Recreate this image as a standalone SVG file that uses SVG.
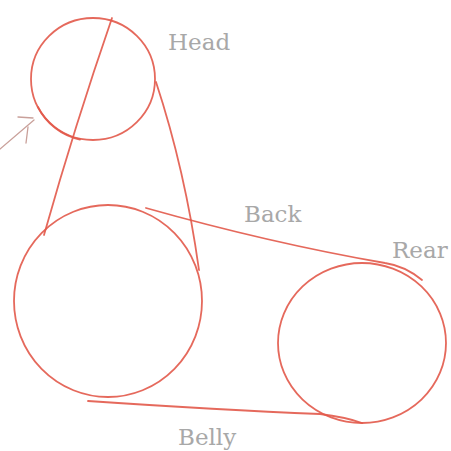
<svg xmlns="http://www.w3.org/2000/svg" width="451" height="451" viewBox="0 0 451 451">
<style>
.s{fill:none;stroke:#e2594a;stroke-width:1.8;stroke-linecap:round;opacity:0.9}
.t{fill:#a8a8a8;font-family:"DejaVu Serif",serif;font-size:23px}
.a{fill:none;stroke:#c9a09a;stroke-width:1.3;stroke-linecap:round}
</style>
<rect width="451" height="451" fill="#ffffff"/>
<g id="head">
<ellipse class="s" cx="93" cy="79" rx="62" ry="61"/>
<path class="s" d="M38,107 A61 60 0 0 0 80,139.5" stroke-width="2.8"/>
</g>
<g id="body">
<ellipse class="s" cx="108" cy="301" rx="94" ry="96"/>
</g>
<g id="rear">
<ellipse class="s" cx="362" cy="343" rx="84" ry="80"/>
</g>
<g id="connectors">
<path class="s" d="M112,18 Q75,125 44,235"/>
<path class="s" d="M156,82 Q185,170 199,270"/>
<path class="s" d="M146,208 Q270,243 385,263 Q405,266 422,280"/>
<path class="s" d="M88,401 Q220,410 320,414 Q345,417 362,423"/>
</g>
<g id="arrow">
<path class="a" d="M0,149 L34,120"/>
<path class="a" d="M18,117 L33,118 M28,127 L26,143"/>
</g>
<g id="labels">
<text class="t" x="168" y="50">Head</text>
<text class="t" x="244" y="222">Back</text>
<text class="t" x="392" y="258">Rear</text>
<text class="t" x="178" y="445">Belly</text>
</g>
</svg>
